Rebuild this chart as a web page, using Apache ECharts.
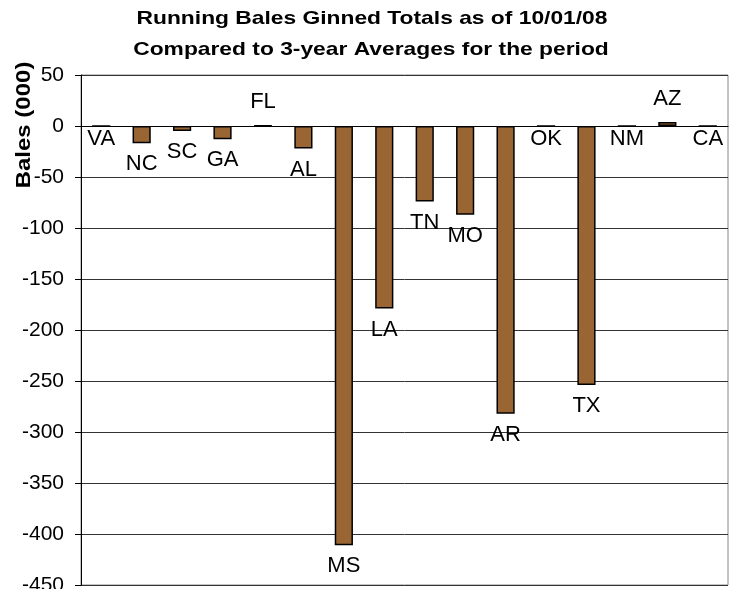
<!DOCTYPE html>
<html><head><meta charset="utf-8">
<script src="https://cdn.jsdelivr.net/npm/echarts@6/dist/echarts.min.js"></script>
<style>html,body{margin:0;padding:0;background:#fff}#c{width:729px;height:589px}</style>
</head><body><div id="c"></div>
<script>
var states = ['VA','NC','SC','GA','FL','AL','MS','LA','TN','MO','AR','OK','TX','NM','AZ','CA'];
var diffs = [0,-17,-5,-13,0.5,-22,-411,-179,-74,-87,-282,0,-254,0,4,0];
var yTicks = {min:-450, max:50, step:50};
var titleLines = ['Running Bales Ginned Totals as of 10/01/08','Compared to 3-year Averages for the period'];
var yName = 'Bales (000)';

var chart = echarts.init(document.getElementById('c'));
var font = '"Liberation Sans", Arial, sans-serif';
chart.setOption({
  animation:false,
  backgroundColor:'#fff',
  graphic:[
    {type:'text', x:372, y:19, scaleX:1.2, scaleY:1,
     style:{text:titleLines[0], fontFamily:font, fontWeight:'bold', fontSize:19, fill:'#000', align:'center', verticalAlign:'middle'}},
    {type:'text', x:371, y:50, scaleX:1.2, scaleY:1,
     style:{text:titleLines[1], fontFamily:font, fontWeight:'bold', fontSize:19, fill:'#000', align:'center', verticalAlign:'middle'}},
    {type:'text', x:24, y:125, rotation:Math.PI/2, scaleX:1.2, scaleY:1,
     style:{text:yName, fontFamily:font, fontWeight:'bold', fontSize:20, fill:'#000', align:'center', verticalAlign:'middle'}}
  ],
  grid:{left:81, right:1, top:75, bottom:4, show:true, borderColor:'#888', borderWidth:1,
        containLabel:false, outerBoundsMode:'none'},
  xAxis:{
    type:'category', data:states,
    axisLine:{show:true, onZero:true, lineStyle:{color:'#000', width:1}},
    axisTick:{show:false}, axisLabel:{show:false}
  },
  yAxis:{
    type:'value', min:yTicks.min, max:yTicks.max, interval:yTicks.step,
    axisLine:{show:true, lineStyle:{color:'#000'}},
    axisTick:{show:true, length:6, lineStyle:{color:'#000'}},
    axisLabel:{fontFamily:font, fontSize:21, color:'#000', margin:17},
    splitLine:{show:true, lineStyle:{color:'#333', width:1}}
  },
  series:[{
    type:'bar', barWidth:'45%',
    itemStyle:{color:'#996633', borderColor:'#000', borderWidth:1.5},
    data: diffs.map(function(v){
      return {value:v, label:{position: v>0 ? 'top' : 'bottom', distance: v>0 ? 12 : (v===0 ? 1 : 10)}};
    }),
    label:{show:true, fontFamily:font, fontSize:22, color:'#000',
      formatter:function(p){return states[p.dataIndex];}}
  }]
});
</script></body></html>
